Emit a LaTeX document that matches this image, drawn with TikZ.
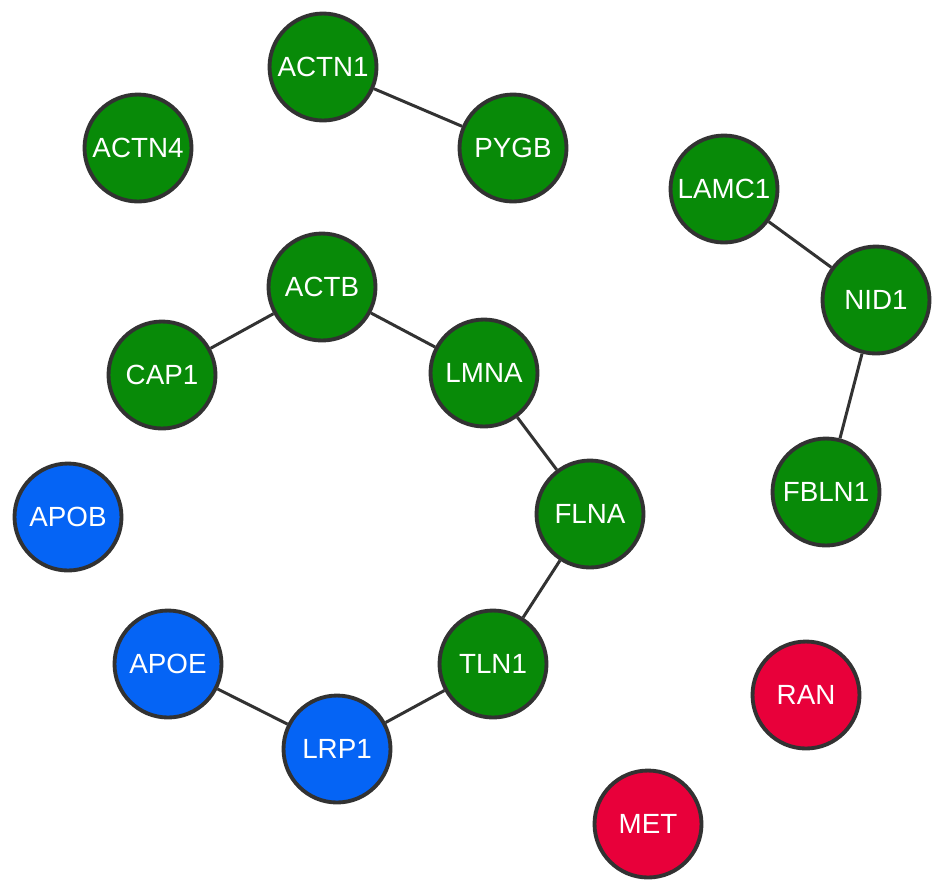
\documentclass[tikz,border=0pt]{standalone}
\usepackage{fontspec}
\setmainfont{Liberation Sans}
\usepackage{xcolor}
\definecolor{nodegreen}{RGB}{8,138,8}
\definecolor{nodeblue}{RGB}{5,100,245}
\definecolor{nodered}{RGB}{232,0,58}
\definecolor{rimgray}{RGB}{50,50,50}
\tikzset{
    gene/.style={circle, draw=rimgray, line width=2.2pt, minimum size=2.14cm,
        inner sep=0pt, text=white, font=\fontsize{15.8}{19}\selectfont},
    green gene/.style={gene, fill=nodegreen},
    blue gene/.style={gene, fill=nodeblue},
    red gene/.style={gene, fill=nodered},
    link/.style={draw=rimgray, line width=1.7pt}
}

\begin{document}
\begin{tikzpicture}[x=0.02cm, y=-0.02cm]
            % canvas
            \useasboundingbox (0, 0) rectangle (945, 894);
            % green genes
            \node[green gene] (actn1) at (323, 67) {ACTN1};
            \node[green gene] (pygb) at (513, 148) {PYGB};
            \node[green gene] (actn4) at (138, 148) {ACTN4};
            \node[green gene] (lamc1) at (724, 189) {LAMC1};
            \node[green gene] (nid1) at (876, 300) {NID1};
            \node[green gene] (fbln1) at (826, 492) {FBLN1};
            \node[green gene] (actb) at (322, 287) {ACTB};
            \node[green gene] (cap1) at (162, 375) {CAP1};
            \node[green gene] (lmna) at (484, 373) {LMNA};
            \node[green gene] (flna) at (590, 514) {FLNA};
            \node[green gene] (tln1) at (493, 664) {TLN1};
            % blue genes
            \node[blue gene] (apob) at (68, 517) {APOB};
            \node[blue gene] (apoe) at (168, 664) {APOE};
            \node[blue gene] (lrp1) at (337, 749) {LRP1};
            % red genes
            \node[red gene] (ran) at (806, 695) {RAN};
            \node[red gene] (met) at (648, 824) {MET};
            % edges
            \draw[link] (actn1) -- (pygb);
            \draw[link] (lamc1) -- (nid1);
            \draw[link] (nid1) -- (fbln1);
            \draw[link] (cap1) -- (actb);
            \draw[link] (actb) -- (lmna);
            \draw[link] (lmna) -- (flna);
            \draw[link] (flna) -- (tln1);
            \draw[link] (tln1) -- (lrp1);
            \draw[link] (lrp1) -- (apoe);
        \end{tikzpicture}
\end{document}
